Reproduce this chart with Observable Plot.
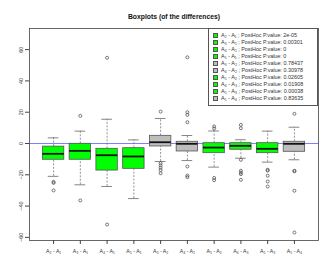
<!DOCTYPE html>
<html><head><meta charset="utf-8">
<script src="https://cdn.jsdelivr.net/npm/d3@7"></script>
<script src="https://cdn.jsdelivr.net/npm/@observablehq/plot@0.6"></script>
<style>
body{margin:0;background:#fff;font-family:"Liberation Sans",Arial,sans-serif;}
#wrap{position:relative;width:332px;height:276px;}
#legend{position:absolute;left:208px;top:28px;width:110px;height:78px;border:1px solid #555;box-sizing:border-box;background:#fff;}
.row{position:absolute;left:0;height:7px;font-size:5.4px;line-height:7px;color:#333;white-space:nowrap;}
.sw{position:absolute;left:4px;top:1px;width:5px;height:5px;border:0.8px solid #555;box-sizing:border-box;}
.tx{position:absolute;left:12px;top:0;}
</style></head>
<body><div id="wrap"><div id="legend"></div></div>
<script>
const labels = ["A₂ - A₁","A₃ - A₁","A₄ - A₁","A₅ - A₁","A₃ - A₂","A₄ - A₂","A₅ - A₂","A₄ - A₃","A₅ - A₃","A₅ - A₄"];
const pvalues = ["2e-05","0.00301","0","0","0.78437","0.30978","0.02605","0.01908","0.00038","0.83635"];
const significant = [true,true,true,true,false,false,true,true,true,false];
const whiskerLow  = [-21,-26.4,-27.5,-35.2,-11.5,-10.9,-15.1,-9.4,-11.9,-10.4];
const q1          = [-10.4,-10.4,-17.3,-16.2,-1.9,-5.1,-6.2,-4,-6.2,-5.3];
const median      = [-6.6,-4.7,-7.5,-8.3,0.8,-0.2,-2.6,-1.5,-3.4,-0.2];
const q3          = [-2,-0.2,-3.4,-3,4.9,1.1,0.2,0.2,0.2,1.1];
const whiskerHigh = [3.6,7.9,15.5,2.3,16,5.1,8,2.4,7.9,10.4];
const outliers = [
  [-24.5,-25.2,-30],
  [17.7,-36.4],
  [54.8,-51.8],
  [],
  [20.4,-12.6,-14,-15.5,-17,-19],
  [55.1,20,18.3,13.6,-14.7,-20.5,-21.5],
  [9.6,10.9,-22,-23.5],
  [9.8,11.9,-10.4,-17.4,-18.6,-19.6,-23.2],
  [-16.8,-17.3,-20.6,-24.3,-27.5],
  [19,-17.4,-17.8,-30.2,-56.9]
];
const yTicks = [-60,-40,-20,0,20,40,60];

const GREEN = "#00ff00", GREY = "#bebebe";
const boxes = labels.map((l,i)=>({i:i+1,label:l,lo:whiskerLow[i],q1:q1[i],med:median[i],q3:q3[i],hi:whiskerHigh[i],sig:significant[i]}));
const outs = outliers.flatMap((arr,i)=>arr.map(v=>({i:i+1,v})));

const chart = Plot.plot({
  width:332, height:276,
  marginLeft:29, marginRight:14, marginTop:28, marginBottom:36,
  style:{fontFamily:"Liberation Sans, Arial, sans-serif", background:"transparent"},
  x:{domain:[0.1,10.9], axis:null, label:null},
  y:{domain:[-62,73.5], axis:null, label:null},
  marks:[
    Plot.ruleY([0],{stroke:"#7070ff",strokeWidth:0.9}),
    Plot.ruleX(boxes,{x:"i",y1:"q3",y2:"hi",stroke:"#666",strokeWidth:0.7,strokeDasharray:"2,1.5"}),
    Plot.ruleX(boxes,{x:"i",y1:"lo",y2:"q1",stroke:"#666",strokeWidth:0.7,strokeDasharray:"2,1.5"}),
    Plot.ruleY(boxes,{y:"hi",x1:d=>d.i-0.2,x2:d=>d.i+0.2,stroke:"#666",strokeWidth:0.8}),
    Plot.ruleY(boxes,{y:"lo",x1:d=>d.i-0.2,x2:d=>d.i+0.2,stroke:"#666",strokeWidth:0.8}),
    Plot.rect(boxes,{filter:d=>d.sig,x1:d=>d.i-0.4,x2:d=>d.i+0.4,y1:"q1",y2:"q3",fill:GREEN,stroke:"#555",strokeWidth:0.8}),
    Plot.rect(boxes,{filter:d=>!d.sig,x1:d=>d.i-0.4,x2:d=>d.i+0.4,y1:"q1",y2:"q3",fill:GREY,stroke:"#555",strokeWidth:0.8}),
    Plot.ruleY(boxes,{y:"med",x1:d=>d.i-0.4,x2:d=>d.i+0.4,stroke:"#111",strokeWidth:1.8}),
    Plot.dot(outs,{x:"i",y:"v",r:1.5,stroke:"#444",strokeWidth:0.7}),
    Plot.frame({stroke:"#444",strokeWidth:0.8}),
    Plot.axisX(boxes.map(d=>d.i),{tickFormat:d=>labels[d-1],tickSize:4,tickPadding:5,fontSize:5.2,stroke:"#444",fill:"#333",label:null}),
    Plot.axisY(yTicks,{tickSize:4,tickPadding:3,tickRotate:-90,fontSize:5.5,textAnchor:"middle",stroke:"#444",fill:"#333",label:null}),
    Plot.text(["Boxplots (of the differences)"],{frameAnchor:"top",dy:-14,fontSize:6.8,fontWeight:"bold",fill:"#111"})
  ]
});
document.getElementById("wrap").prepend(chart);
chart.style.position="absolute"; chart.style.left="0"; chart.style.top="0";

const leg = document.getElementById("legend");
labels.forEach((l,i)=>{
  const r = document.createElement("div");
  r.className="row"; r.style.top=(2.5+i*7.1)+"px";
  const s = document.createElement("div"); s.className="sw"; s.style.background=significant[i]?GREEN:GREY;
  const t = document.createElement("div"); t.className="tx"; t.textContent=l+"  ; PostHoc P.value: "+pvalues[i];
  r.appendChild(s); r.appendChild(t); leg.appendChild(r);
});
</script></body></html>
